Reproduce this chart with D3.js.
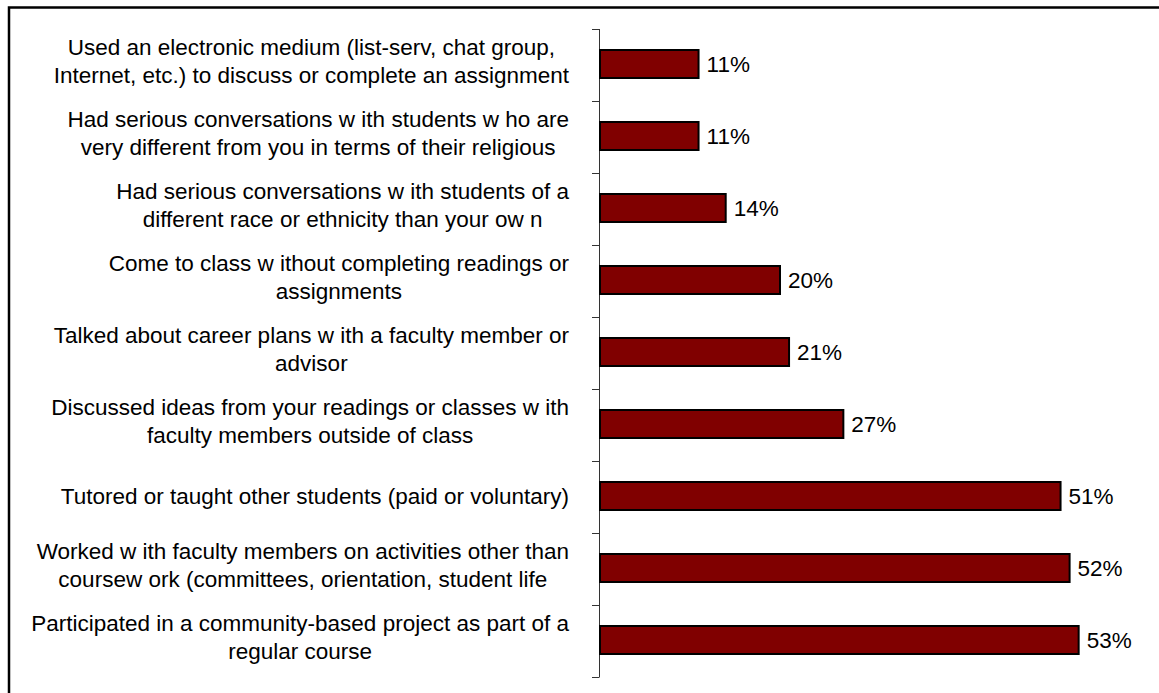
<!DOCTYPE html>
<html>
<head>
<meta charset="utf-8">
<script src="https://cdn.jsdelivr.net/npm/d3@7/dist/d3.min.js"></script>
<style>
  html, body { margin: 0; padding: 0; background: #fff; }
  svg { display: block; }
  text { font-family: Arial, "Liberation Sans", sans-serif; fill: #000; }
</style>
</head>
<body>
<svg id="chart" width="1159" height="693"></svg>
<script>
// Survey items (each entry is the list of wrapped label lines)
const categories = [
  ["Used an electronic medium (list-serv, chat group,", "Internet, etc.) to discuss or complete an assignment"],
  ["Had serious conversations w ith students w ho are", "very different from you in terms of their religious"],
  ["Had serious conversations w ith students of a", "different race or ethnicity than your ow n"],
  ["Come to class w ithout completing readings or", "assignments"],
  ["Talked about career plans w ith a faculty member or", "advisor"],
  ["Discussed ideas from your readings or classes w ith", "faculty members outside of class"],
  ["Tutored or taught other students (paid or voluntary)"],
  ["Worked w ith faculty members on activities other than", "coursew ork (committees, orientation, student life"],
  ["Participated in a community-based project as part of a", "regular course"]
];
// Percent of respondents
const values = [11, 11, 14, 20, 21, 27, 51, 52, 53];

const svg = d3.select("#chart");
const fontSize = 22.5;

// Outer frame (runs off the right and bottom edges)
svg.append("rect")
  .attr("x", 9).attr("y", 7.5)
  .attr("width", 1200).attr("height", 720)
  .attr("fill", "none").attr("stroke", "#000").attr("stroke-width", 2.5);

const axisX = 599, plotTop = 29, plotBottom = 677;

const x = d3.scaleLinear().domain([0, 60]).range([axisX, axisX + 543]);
const y = d3.scaleBand()
  .domain(d3.range(categories.length))
  .range([plotTop, plotBottom])
  .paddingInner(0).paddingOuter(0);

// Category axis: vertical line with ticks at band boundaries
const axisG = svg.append("g").attr("class", "cat-axis");
axisG.append("line")
  .attr("x1", axisX + 0.5).attr("x2", axisX + 0.5)
  .attr("y1", plotTop).attr("y2", plotBottom)
  .attr("stroke", "#333").attr("stroke-width", 1);
const boundaries = d3.range(categories.length + 1).map(i => i === categories.length ? plotBottom : y(i));
axisG.selectAll("line.tick")
  .data(boundaries)
  .join("line")
  .attr("class", "tick")
  .attr("x1", axisX - 7).attr("x2", axisX + 0.5)
  .attr("y1", d => Math.round(d) + 0.5).attr("y2", d => Math.round(d) + 0.5)
  .attr("stroke", "#333").attr("stroke-width", 1);

// Bars
const barH = 28;
svg.append("g").selectAll("rect")
  .data(values)
  .join("rect")
  .attr("x", x(0) + 1)
  .attr("y", (d, i) => y(i) + y.bandwidth() / 2 - barH / 2 - 1)
  .attr("width", d => x(d) - x(0) - 1)
  .attr("height", barH)
  .attr("fill", "#800000")
  .attr("stroke", "#000")
  .attr("stroke-width", 2);

// Value labels
svg.append("g").selectAll("text")
  .data(values)
  .join("text")
  .attr("x", d => x(d) + 8)
  .attr("y", (d, i) => y(i) + y.bandwidth() / 2 + 7)
  .attr("font-size", fontSize)
  .text(d => d + "%");

// Category labels: lines centred within a right-aligned block
const labelRight = 569, lineGap = 28;
const labelG = svg.append("g");
categories.forEach((lines, i) => {
  const cy = y(i) + y.bandwidth() / 2;
  const g = labelG.append("g");
  const texts = lines.map((ln, j) => {
    const base = lines.length === 1 ? cy + 7 : cy - 10 + j * lineGap;
    return g.append("text")
      .attr("y", base)
      .attr("font-size", fontSize)
      .attr("text-anchor", "middle")
      .text(ln);
  });
  const maxW = d3.max(texts, t => t.node().getComputedTextLength());
  texts.forEach(t => t.attr("x", labelRight - maxW / 2));
});
</script>
</body>
</html>
